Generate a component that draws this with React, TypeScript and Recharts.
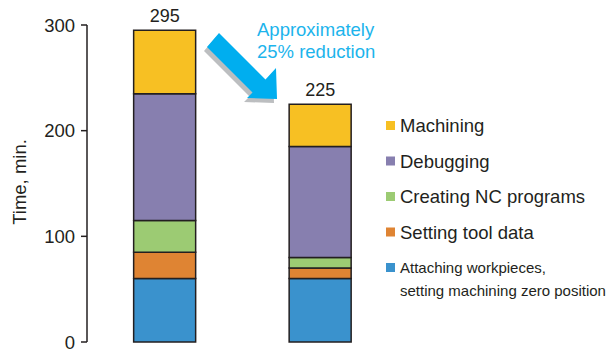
import { BarChart, Bar, XAxis, YAxis, Legend, LabelList } from "recharts";

const CATEGORIES = ["Before", "After"];
const ATTACHING = [60, 60];
const TOOL_DATA = [25, 10];
const NC_PROGRAMS = [30, 10];
const DEBUGGING = [120, 105];
const MACHINING = [60, 40];
const TOTALS = [295, 225];
const Y_TICKS = [0, 100, 200, 300];

// stacking order bottom -> top
const SERIES = [
  { key: "attaching", name: "Attaching workpieces, setting machining zero position", color: "#3A92CD" },
  { key: "toolData", name: "Setting tool data", color: "#DF8433" },
  { key: "ncPrograms", name: "Creating NC programs", color: "#9CCB73" },
  { key: "debugging", name: "Debugging", color: "#877FAF" },
  { key: "machining", name: "Machining", color: "#F7C023" },
];

const data = CATEGORIES.map((name, i) => ({
  name,
  attaching: ATTACHING[i],
  toolData: TOOL_DATA[i],
  ncPrograms: NC_PROGRAMS[i],
  debugging: DEBUGGING[i],
  machining: MACHINING[i],
  total: TOTALS[i],
}));

const INK = "#231F20";
const FONT = "'Liberation Sans', Arial, Helvetica, sans-serif";

// legend lists the top of the stack first
function LegendBox() {
  const items = [...SERIES].reverse();
  return (
    <svg width={229} height={200} style={{ display: "block", fontFamily: FONT }}>
      {items.map((item, i) => {
        const cy = 15.5 + i * 35.5;
        const twoLine = item.key === "attaching";
        return (
          <g key={item.key}>
            <rect x={6} y={cy - 4.5} width={9} height={9} fill={item.color} />
            {twoLine ? (
              <>
                <text x={20} y={cy} dominantBaseline="central" fontSize={15} fill={INK}>
                  Attaching workpieces,
                </text>
                <text x={20} y={cy + 23} dominantBaseline="central" fontSize={15} fill={INK}>
                  setting machining zero position
                </text>
              </>
            ) : (
              <text x={20} y={cy} dominantBaseline="central" fontSize={18.5} fill={INK}>
                {item.name}
              </text>
            )}
          </g>
        );
      })}
    </svg>
  );
}

export default function App() {
  return (
    <div style={{ position: "absolute", left: 0, top: 0, width: 609, height: 354, background: "#fff", fontFamily: FONT }}>
      <BarChart
        width={609}
        height={354}
        data={data}
        margin={{ top: 25, right: 211, bottom: 12, left: 0 }}
        barCategoryGap="30%"
      >
        <XAxis dataKey="name" tick={false} tickLine={false} height={0} axisLine={{ stroke: "#6D6E71", strokeWidth: 1.5 }} />
        <YAxis
          width={87}
          domain={[0, 300]}
          ticks={Y_TICKS}
          tickSize={6}
          tickMargin={6}
          axisLine={{ stroke: INK, strokeWidth: 1.5 }}
          tickLine={{ stroke: INK, strokeWidth: 1.5 }}
          tick={{ fill: INK, fontSize: 18.5, fontFamily: FONT }}
        />
        {SERIES.map((s, i) => (
          <Bar
            key={s.key}
            dataKey={s.key}
            name={s.name}
            stackId="t"
            fill={s.color}
            stroke={INK}
            strokeWidth={1.5}
            isAnimationActive={false}
          >
            {i === SERIES.length - 1 && (
              <LabelList dataKey="total" position="top" offset={8} fill={INK} fontSize={18} fontFamily={FONT} />
            )}
          </Bar>
        ))}
        <Legend
          layout="horizontal"
          verticalAlign="middle"
          align="center"
          content={<LegendBox />}
          wrapperStyle={{ position: "absolute", left: 380, top: 110, width: 229, height: 200 }}
        />
        <text
          x={19}
          y={182}
          transform="rotate(-90 19 182)"
          textAnchor="middle"
          dominantBaseline="central"
          fontSize={18.5}
          fill={INK}
          fontFamily={FONT}
        >
          Time, min.
        </text>
        {/* reduction arrow with shadow */}
        <polygon
          points="216,37 262.5,83.5 273,72 274,103 244,102 249.5,96.5 204,51"
          fill="#BCBEC0"
        />
        <polygon
          points="219,33 265.5,79.5 276,68 277,99 247,98 252.5,92.5 207,47"
          fill="#00AEEF"
        />
        <text x={257} y={36} fontSize={18.5} fill="#1CB4EC" fontFamily={FONT}>
          Approximately
        </text>
        <text x={257} y={58} fontSize={18.5} fill="#1CB4EC" fontFamily={FONT}>
          25% reduction
        </text>
      </BarChart>
    </div>
  );
}
